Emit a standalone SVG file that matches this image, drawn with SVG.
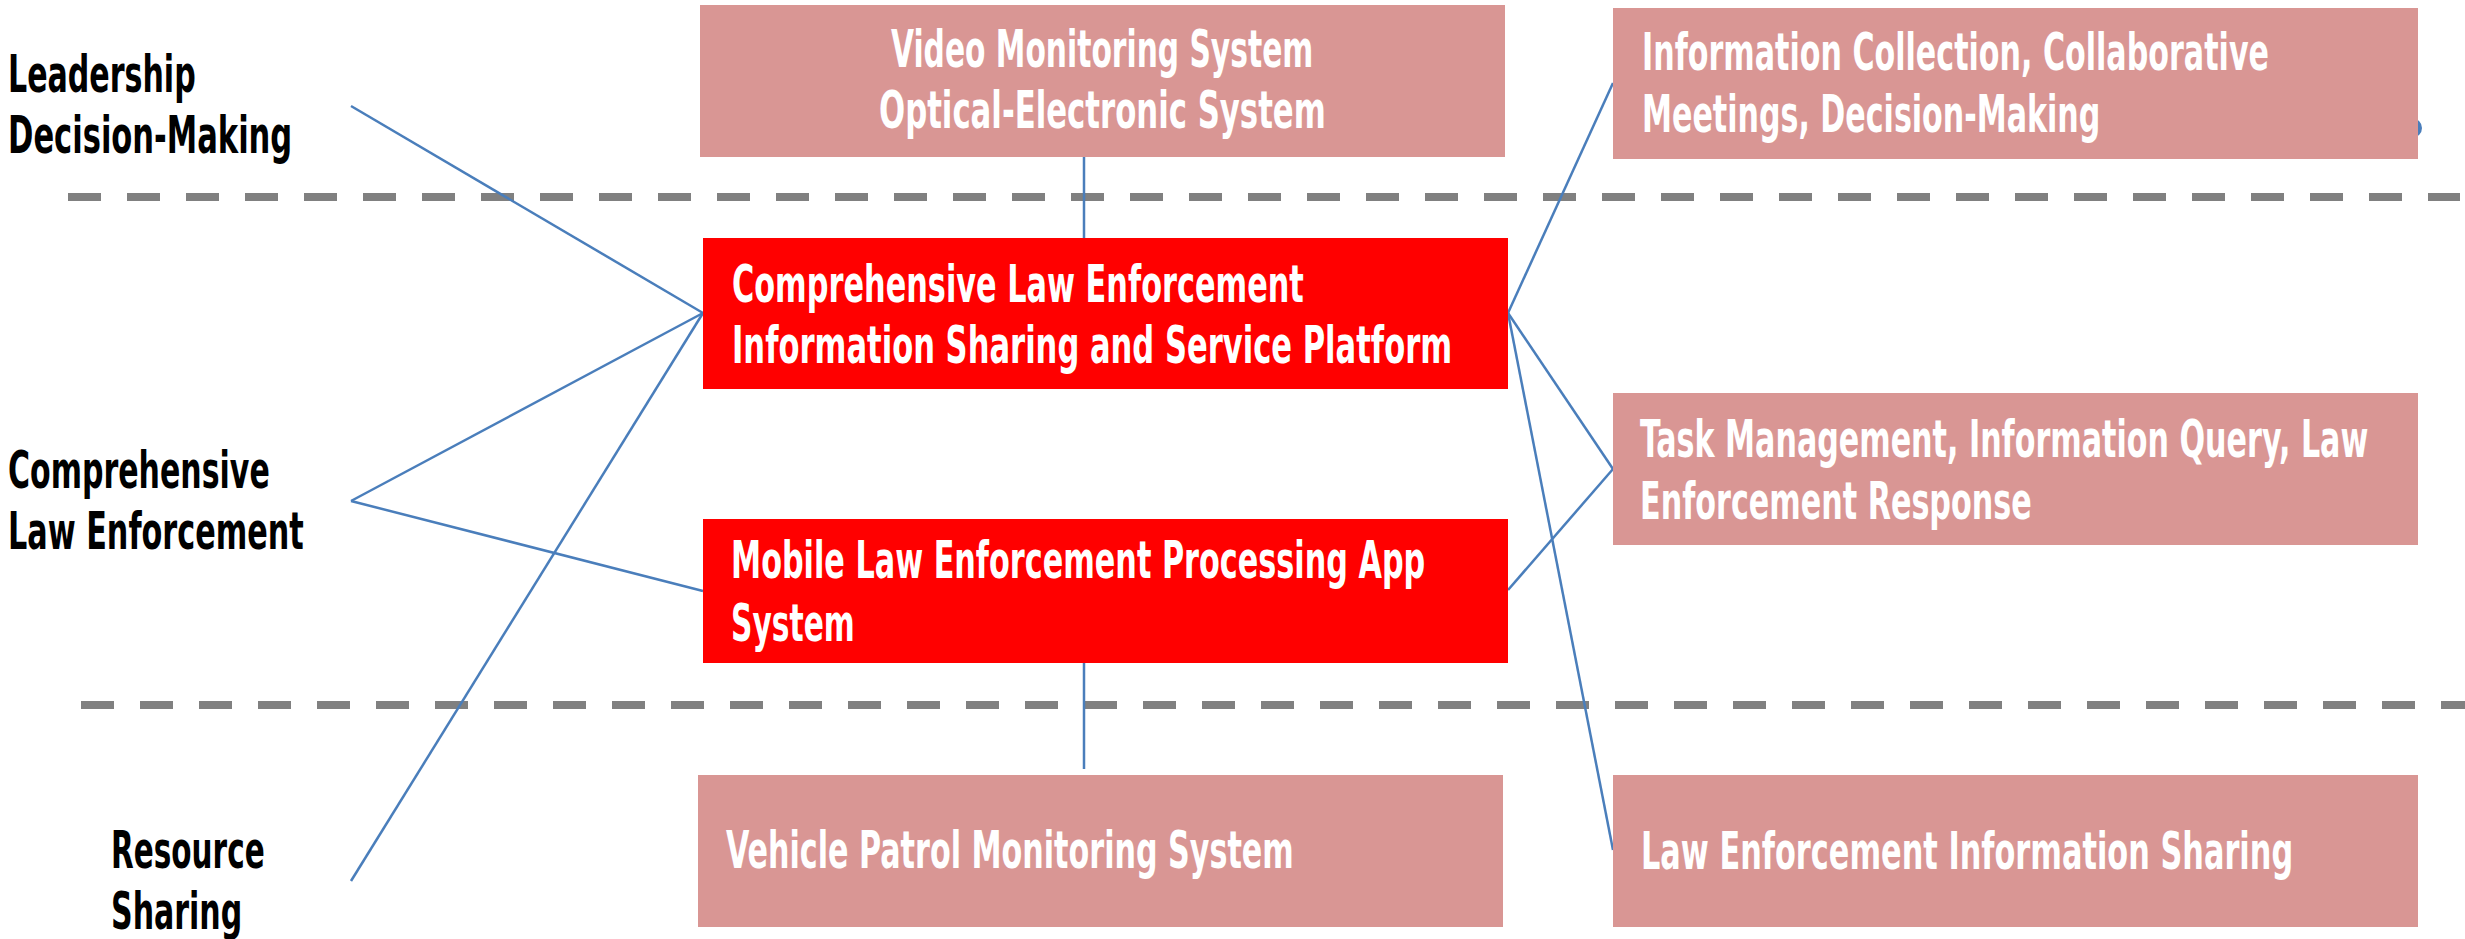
<svg xmlns="http://www.w3.org/2000/svg" width="2465" height="939" viewBox="0 0 2465 939">
<style>
.t{font-family:"Liberation Sans Narrow","DejaVu Sans Condensed","Liberation Sans",sans-serif;font-weight:bold;font-size:51px}
.lbl{fill:#000}
.w{fill:#fff}
.pink{fill:#D99694}
.red{fill:#FF0000}
.dash{stroke:#808080;stroke-width:8;stroke-dasharray:33 26;fill:none}
.c{stroke:#4A7EBB;stroke-width:2.5;fill:none}
</style>
<rect width="2465" height="939" fill="#fff"/>
<g id="separators">
<line class="dash" x1="68" y1="197" x2="2460" y2="197"/>
<line class="dash" x1="81" y1="705" x2="2465" y2="705"/>
</g>
<circle cx="2412" cy="128" r="10" fill="#4A7EBB"/>
<g id="connectors">
<line class="c" x1="351" y1="106" x2="703" y2="313"/>
<line class="c" x1="351" y1="501" x2="703" y2="313"/>
<line class="c" x1="351" y1="501" x2="703" y2="591"/>
<line class="c" x1="351" y1="881" x2="703" y2="313"/>
<line class="c" x1="1084" y1="157" x2="1084" y2="238"/>
<line class="c" x1="1084" y1="663" x2="1084" y2="769"/>
<line class="c" x1="1508" y1="313" x2="1613" y2="83"/>
<line class="c" x1="1508" y1="313" x2="1613" y2="469"/>
<line class="c" x1="1508" y1="313" x2="1613" y2="850"/>
<line class="c" x1="1508" y1="590" x2="1613" y2="469"/>
</g>
<g id="label-leadership">
<text class="t lbl" transform="translate(8 92) scale(0.68 1)" textLength="276" lengthAdjust="spacingAndGlyphs">Leadership</text>
<text class="t lbl" transform="translate(8 153) scale(0.68 1)" textLength="418" lengthAdjust="spacingAndGlyphs">Decision-Making</text>
</g>
<g id="label-comprehensive">
<text class="t lbl" transform="translate(8 488) scale(0.68 1)" textLength="385" lengthAdjust="spacingAndGlyphs">Comprehensive</text>
<text class="t lbl" transform="translate(8 549) scale(0.68 1)" textLength="435" lengthAdjust="spacingAndGlyphs">Law Enforcement</text>
</g>
<g id="label-resource">
<text class="t lbl" transform="translate(111 868) scale(0.68 1)" textLength="226" lengthAdjust="spacingAndGlyphs">Resource</text>
<text class="t lbl" transform="translate(111 929) scale(0.68 1)" textLength="193" lengthAdjust="spacingAndGlyphs">Sharing</text>
</g>
<g id="node-video">
<rect class="pink" x="700" y="5" width="805" height="152"/>
<text class="t w" transform="translate(891 67) scale(0.68 1)" textLength="621" lengthAdjust="spacingAndGlyphs">Video Monitoring System</text>
<text class="t w" transform="translate(879 128) scale(0.68 1)" textLength="657" lengthAdjust="spacingAndGlyphs">Optical-Electronic System</text>
</g>
<g id="node-platform">
<rect class="red" x="703" y="238" width="805" height="151"/>
<text class="t w" transform="translate(732 302) scale(0.68 1)" textLength="841" lengthAdjust="spacingAndGlyphs">Comprehensive Law Enforcement</text>
<text class="t w" transform="translate(732 363) scale(0.68 1)" textLength="1059" lengthAdjust="spacingAndGlyphs">Information Sharing and Service Platform</text>
</g>
<g id="node-mobile">
<rect class="red" x="703" y="519" width="805" height="144"/>
<text class="t w" transform="translate(731 578) scale(0.68 1)" textLength="1021" lengthAdjust="spacingAndGlyphs">Mobile Law Enforcement Processing App</text>
<text class="t w" transform="translate(731 641) scale(0.68 1)" textLength="182" lengthAdjust="spacingAndGlyphs">System</text>
</g>
<g id="node-vehicle">
<rect class="pink" x="698" y="775" width="805" height="152"/>
<text class="t w" transform="translate(726 868) scale(0.68 1)" textLength="835" lengthAdjust="spacingAndGlyphs">Vehicle Patrol Monitoring System</text>
</g>
<g id="node-collection">
<rect class="pink" x="1613" y="8" width="805" height="151"/>
<text class="t w" transform="translate(1642 70) scale(0.68 1)" textLength="922" lengthAdjust="spacingAndGlyphs">Information Collection, Collaborative</text>
<text class="t w" transform="translate(1642 132) scale(0.68 1)" textLength="674" lengthAdjust="spacingAndGlyphs">Meetings, Decision-Making</text>
</g>
<g id="node-task">
<rect class="pink" x="1613" y="393" width="805" height="152"/>
<text class="t w" transform="translate(1640 457) scale(0.68 1)" textLength="1071" lengthAdjust="spacingAndGlyphs">Task Management, Information Query, Law</text>
<text class="t w" transform="translate(1640 519) scale(0.68 1)" textLength="576" lengthAdjust="spacingAndGlyphs">Enforcement Response</text>
</g>
<g id="node-sharing">
<rect class="pink" x="1613" y="775" width="805" height="152"/>
<text class="t w" transform="translate(1641 869) scale(0.68 1)" textLength="959" lengthAdjust="spacingAndGlyphs">Law Enforcement Information Sharing</text>
</g>
</svg>
